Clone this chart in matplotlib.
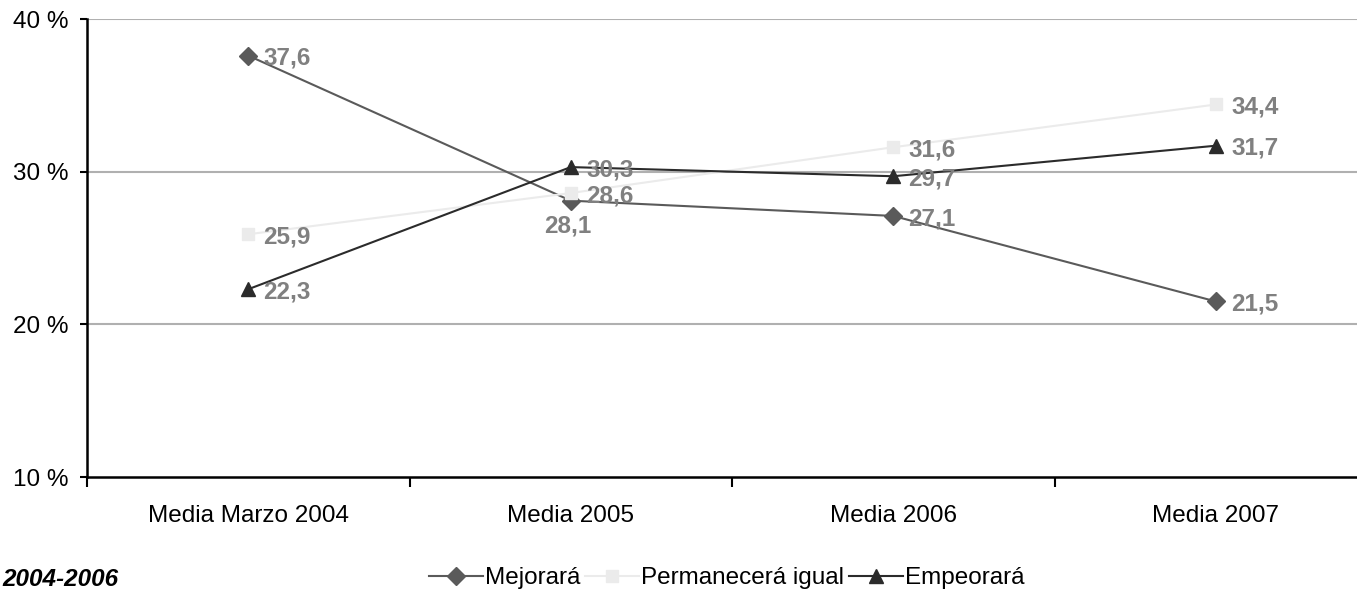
import numpy as np
import matplotlib.pyplot as plt

plt.rcParams['font.family'] = ['Liberation Sans', 'DejaVu Sans']

categories = ['Media Marzo 2004', 'Media 2005', 'Media 2006', 'Media 2007']
mejorara = [37.6, 28.1, 27.1, 21.5]
permanecera = [25.9, 28.6, 31.6, 34.4]
empeorara = [22.3, 30.3, 29.7, 31.7]
y_ticks = [10, 20, 30, 40]

W, H = 1357, 593
fig = plt.figure(figsize=(W / 100, H / 100), dpi=100)
# the plot area runs past the right edge of the picture, as in the original
ax = fig.add_axes([87 / W, (H - 477) / H, (1377 - 87) / W, (477 - 19) / H])

x = np.arange(len(categories))
fs = 17.5
lab_color = '#808080'

series = [
    ('Mejorará', mejorara, '#5a5a5a', 'D', 9),
    ('Permanecerá igual', permanecera, '#ebebeb', 's', 9),
    ('Empeorará', empeorara, '#2b2b2b', '^', 10.5),
]
for name, vals, col, mk, ms in series:
    ax.plot(x, vals, color=col, lw=1.5, marker=mk, markersize=ms,
            markeredgecolor=col, markerfacecolor=col, label=name, zorder=3,
            clip_on=False)

# data labels
for vals in (mejorara, permanecera, empeorara):
    for i, v in enumerate(vals):
        txt = f'{v:.1f}'.replace('.', ',')
        if vals is mejorara and i == 1:
            ax.annotate(txt, (i, v), xytext=(-2, -18), textcoords='offset points',
                        ha='center', va='center', fontsize=fs, fontweight='bold',
                        color=lab_color, zorder=4)
        else:
            ax.annotate(txt, (i, v), xytext=(11, -2), textcoords='offset points',
                        ha='left', va='center', fontsize=fs, fontweight='bold',
                        color=lab_color, zorder=4)

ax.set_xlim(-0.5, len(categories) - 0.5)
ax.set_ylim(10, 40)
ax.set_yticks(y_ticks)
ax.set_yticklabels([f'{t} %' for t in y_ticks], fontsize=fs)
ax.tick_params(axis='y', direction='out', length=5, width=1.5, pad=8)

ax.set_xticks(np.arange(-0.5, len(categories), 1.0))
ax.set_xticklabels([])
ax.tick_params(axis='x', which='major', direction='out', length=7, width=1.5)
ax.set_xticks(x, minor=True)
ax.set_xticklabels(categories, minor=True, fontsize=fs)
ax.tick_params(axis='x', which='minor', length=0, pad=20)

for yv in y_ticks[1:]:
    ax.axhline(yv, color='#b0b0b0', lw=1.5, zorder=1)

for s in ('top', 'right'):
    ax.spines[s].set_visible(False)
for s in ('left', 'bottom'):
    ax.spines[s].set_linewidth(1.8)
    ax.spines[s].set_color('black')
    ax.spines[s].set_zorder(2)

fig.legend(loc='center', bbox_to_anchor=(727 / W, (H - 578) / H), ncol=3,
           frameon=False, fontsize=fs, handlelength=2.2, handletextpad=0.1,
           columnspacing=0.2, borderpad=0)

fig.text(118 / W, (H - 580) / H, '2004-2006', ha='right', va='center',
         fontsize=fs, fontweight='bold', fontstyle='italic')

fig.savefig('out.png', dpi=100)
